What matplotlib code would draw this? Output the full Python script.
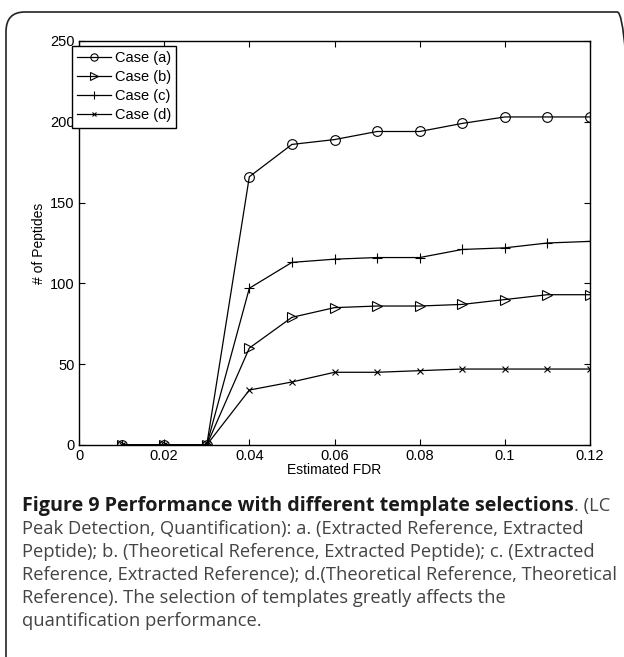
import matplotlib.pyplot as plt
from matplotlib.patches import FancyBboxPatch

# Dados
fdr = [0.01, 0.02, 0.03, 0.04, 0.05, 0.06, 0.07, 0.08, 0.09, 0.10, 0.11, 0.12]
caso_a = [0, 0, 0, 166, 186, 189, 194, 194, 199, 203, 203, 203]
caso_b = [0, 0, 0, 60, 79, 85, 86, 86, 87, 90, 93, 93]
caso_c = [0, 0, 0, 97, 113, 115, 116, 116, 121, 122, 125, 126]
caso_d = [0, 0, 0, 34, 39, 45, 45, 46, 47, 47, 47, 47]
rotulos = ['Case (a)', 'Case (b)', 'Case (c)', 'Case (d)']
xticks = [0, 0.02, 0.04, 0.06, 0.08, 0.1, 0.12]
xtick_labels = ['0', '0.02', '0.04', '0.06', '0.08', '0.1', '0.12']
yticks = [0, 50, 100, 150, 200, 250]

titulo = 'Figure 9 Performance with different template selections'
legenda_linhas = [
    '. (LC',
    'Peak Detection, Quantification): a. (Extracted Reference, Extracted',
    'Peptide); b. (Theoretical Reference, Extracted Peptide); c. (Extracted',
    'Reference, Extracted Reference); d.(Theoretical Reference, Theoretical',
    'Reference). The selection of templates greatly affects the',
    'quantification performance.',
]

W, H = 624, 657
fig = plt.figure(figsize=(W / 100, H / 100), dpi=100)

# Moldura arredondada
moldura = FancyBboxPatch((6 / W, -20 / H), 630 / W, (H - 12 + 20) / H,
                         boxstyle='round,pad=0,rounding_size=0.03',
                         transform=fig.transFigure, facecolor='none',
                         edgecolor='#222222', linewidth=1.2)
fig.patches.append(moldura)

ax = fig.add_axes([79 / W, 1 - 445 / H, (590 - 79) / W, (445 - 41) / H])
fonte = ['Liberation Sans', 'DejaVu Sans']
estilos = [('o', 7, 'none'), ('>', 7, 'none'), ('+', 7, 'k'), ('x', 4.5, 'k')]
for serie, rot, (m, ms, fc) in zip([caso_a, caso_b, caso_c, caso_d], rotulos, estilos):
    ax.plot(fdr, serie, '-', color='k', marker=m, markersize=ms,
            markerfacecolor=fc, markeredgecolor='k', markeredgewidth=0.8,
            linewidth=0.9, label=rot)

ax.set_xlim(0, 0.12)
ax.set_ylim(0, 250)
ax.set_xticks(xticks)
ax.set_xticklabels(xtick_labels, family=fonte, fontsize=10.5)
ax.set_yticks(yticks)
ax.set_yticklabels([str(v) for v in yticks], family=fonte, fontsize=10.5)
ax.tick_params(direction='in', top=True, right=True, length=4, width=0.8, pad=3)
for sp in ax.spines.values():
    sp.set_linewidth(1.0)
ax.set_xlabel('Estimated FDR', family=fonte, fontsize=10, labelpad=0)
ax.set_ylabel('# of Peptides', family=fonte, fontsize=10, labelpad=3)

leg = ax.legend(loc='upper left', bbox_to_anchor=(72 / W, 1 - 46 / H),
                bbox_transform=fig.transFigure, prop={'family': fonte, 'size': 10.5},
                frameon=True, fancybox=False, edgecolor='k', framealpha=1,
                handlelength=2.3, handletextpad=0.3, labelspacing=0.35,
                borderpad=0.35, borderaxespad=0, markerscale=0.75, numpoints=1)
leg.get_frame().set_linewidth(1.0)

# Legenda da figura
fonte_leg = ['Open Sans', 'DejaVu Sans']
tam = 13.2
y0 = 1 - 506 / H
passo = 23.0 / H
t = fig.text(22 / W, y0, titulo, family=fonte_leg, fontsize=14.2, weight='bold',
             color='#1a1a1a', va='center', ha='left')
fig.canvas.draw()
bb = t.get_window_extent()
fig.text(bb.x1 / W, y0, legenda_linhas[0], family=fonte_leg, fontsize=tam,
         color='#444444', va='center', ha='left')
for i, linha in enumerate(legenda_linhas[1:], start=1):
    fig.text(22 / W, y0 - i * passo, linha, family=fonte_leg, fontsize=tam,
             color='#444444', va='center', ha='left')

fig.savefig('out.png', dpi=100)
plt.close()
